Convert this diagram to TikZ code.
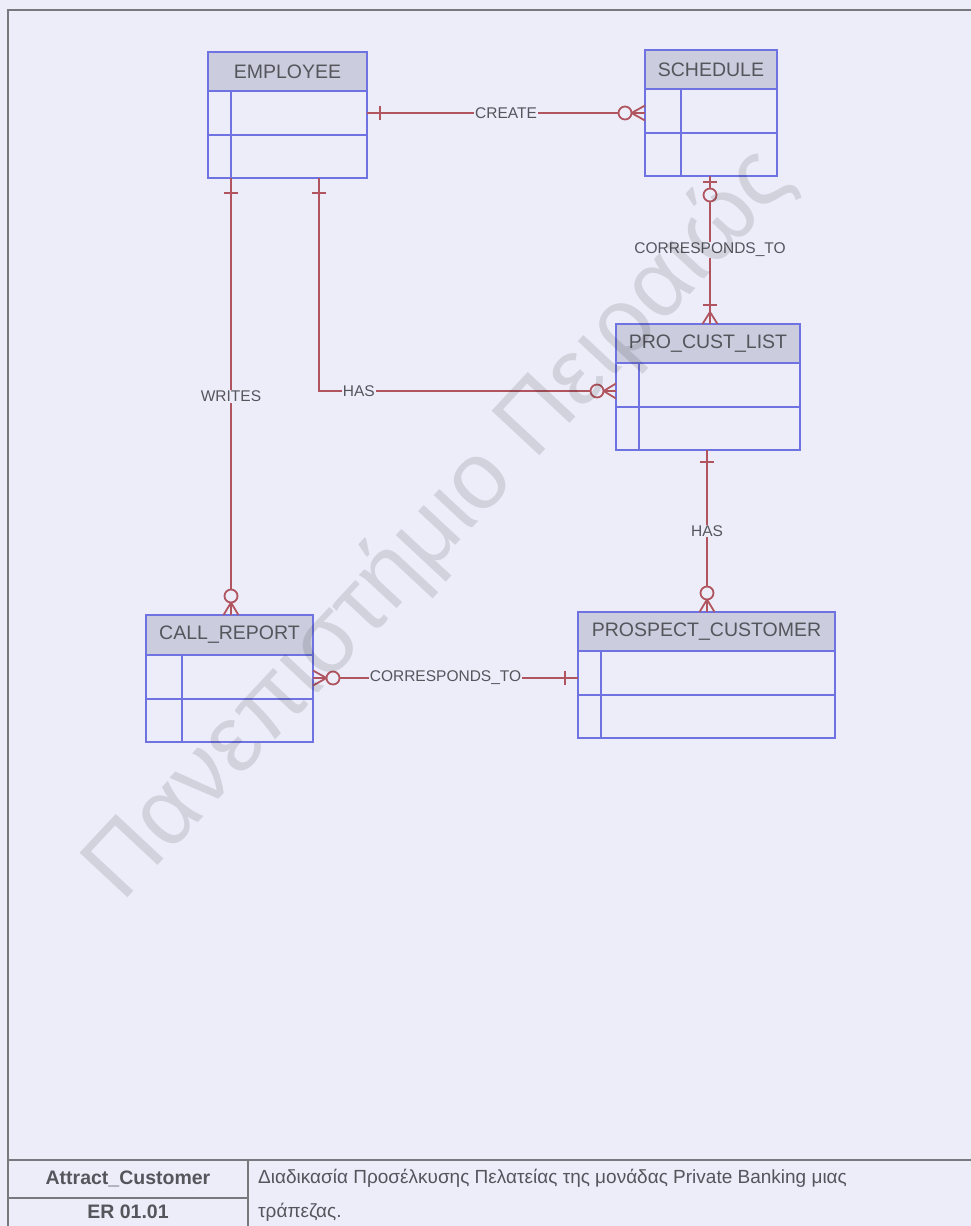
\documentclass[tikz,border=0pt]{standalone}
\usepackage{fontspec}
\setmainfont{Liberation Sans}
\usetikzlibrary{calc}
\definecolor{bg}{RGB}{236,237,249}
\definecolor{hdrfill}{RGB}{203,204,222}
\definecolor{blueline}{RGB}{110,115,225}
\definecolor{relred}{RGB}{176,85,95}
\definecolor{txtgray}{RGB}{85,85,92}
\definecolor{framegray}{RGB}{120,120,126}
\tikzset{
  ebox/.style={draw=blueline, line width=1.3pt, inner sep=0pt, outer sep=0pt},
  bl/.style={draw=blueline, line width=1.3pt},
  etitle/.style={text=txtgray, font=\fontsize{19.5}{20}\selectfont, inner sep=0pt},
  rel/.style={draw=relred, line width=1.8pt},
  lbl/.style={fill=bg, text=txtgray, font=\fontsize{15.5}{16}\selectfont, inner sep=1pt},
  frameline/.style={draw=framegray, line width=1.5pt},
  tabtxt/.style={text=txtgray, font=\fontsize{19}{19}\selectfont, inner sep=0pt},
  tabbold/.style={text=txtgray, font=\bfseries\fontsize{19.5}{19.5}\selectfont, inner sep=0pt},
}
\newcommand\entity[9]{%
  \fill[hdrfill] (#2,#3) rectangle (#4,#6);
  \draw[bl] (#2,#6) -- (#4,#6);
  \draw[bl] (#2,#7) -- (#4,#7);
  \draw[bl] (#8,#6) -- (#8,#5);
  \node[ebox, minimum width={#4-#2}, minimum height={#5-#3}] (#1) at ({(#2+#4)/2},{(#3+#5)/2}) {};
  \node[etitle] (#1-t) at ({(#2+#4)/2},{(#3+#6)/2}) {#9};
}
% markers: point, outward angle, distance
\newcommand\mone[3]{\begin{scope}[shift={(#1)},rotate=#2]\draw[rel] (#3,-7) -- (#3,7);\end{scope}}
\newcommand\mzmany[3]{\begin{scope}[shift={(#1)},rotate=#2]
  \draw[rel] (0,-7.5) -- ({#3-6.5},0) -- (0,7.5);
  \draw[rel, fill=bg] (#3,0) circle (6.5pt);\end{scope}}
\newcommand\mzone[3]{\begin{scope}[shift={(#1)},rotate=#2]
  \draw[rel] (6,-7) -- (6,7);
  \draw[rel, fill=bg] (#3,0) circle (6.5pt);\end{scope}}
\newcommand\monemany[3]{\begin{scope}[shift={(#1)},rotate=#2]
  \draw[rel] (0,-7.5) -- (12,0) -- (0,7.5);
  \draw[rel] (#3,-7) -- (#3,7);\end{scope}}
\begin{document}
\begin{tikzpicture}[x=1pt, y=-1pt]
\useasboundingbox (0,0) rectangle (971,1226);
\fill[bg] (0,0) rectangle (971,1226);
% frame
\draw[frameline] (971,10) -- (8,10) -- (8,1226);
\draw[frameline] (8,1160) -- (971,1160);
\draw[frameline] (8,1198) -- (248,1198);
\draw[frameline] (248,1160) -- (248,1226);
\node[tabbold] (t1) at (128,1179) {Attract\_Customer};
\node[tabbold] (t2) at (128,1212) {ER 01.01};
\node[tabtxt, anchor=west] (t3) at (258,1178) {Διαδικασία Προσέλκυσης Πελατείας της μονάδας Private Banking μιας};
\node[tabtxt, anchor=west] (t4) at (258,1212) {τράπεζας.};
% entities
\entity{emp}{208}{52}{367}{178}{91}{135}{231}{EMPLOYEE}
\entity{sch}{645}{50}{777}{176}{89}{133}{681}{SCHEDULE}
\entity{pcl}{616}{324}{800}{450}{363}{407}{639}{PRO\_CUST\_LIST}
\entity{pc}{578}{612}{835}{738}{651}{695}{601}{PROSPECT\_CUSTOMER}
\entity{crp}{146}{615}{313}{742}{655}{699}{182}{CALL\_REPORT}
% connectors
\coordinate (c1) at (emp.east |- sch.west);
\draw[rel] (c1) -- node[lbl]{CREATE} (sch.west);
\mone{c1}{0}{13}
\mzmany{sch.west}{180}{20}

\coordinate (w1) at ($(emp.south west)+(23,0)$);
\coordinate (w2) at (w1 |- crp.north);
\draw[rel] (w1) -- node[lbl]{WRITES} (w2);
\mone{w1}{-90}{15}
\mzmany{w2}{90}{19}

\coordinate (h1) at ($(emp.south west)+(111,0)$);
\coordinate (h2) at ($(pcl.west)+(0,4)$);
\draw[rel] (h1) |- node[lbl, pos=0.567]{HAS} (h2);
\mone{h1}{-90}{15}
\mzmany{h2}{180}{19}

\coordinate (s0) at ($(sch.south west)+(65,0)$);
\coordinate (s1) at (s0 |- pcl.north);
\draw[rel] (s0) -- node[lbl]{CORRESPONDS\_TO} (s1);
\mzone{s0}{-90}{19}
\monemany{s1}{90}{19}

\coordinate (p0) at ($(pcl.south west)+(91,0)$);
\coordinate (p1) at (p0 |- pc.north);
\draw[rel] (p0) -- node[lbl]{HAS} (p1);
\mone{p0}{-90}{12}
\mzmany{p1}{90}{19}

\coordinate (r0) at ($(crp.north east)+(0,63)$);
\coordinate (r1) at (r0 -| pc.west);
\draw[rel] (r0) -- node[lbl]{CORRESPONDS\_TO} (r1);
\mzmany{r0}{0}{20}
\mone{r1}{180}{13}

% watermark
\node[rotate=47, text=black, text opacity=0.11, font=\fontsize{95}{95}\selectfont, inner sep=0pt] (wm) at (440,525) {Πανεπιστήμιο Πειραιώς};
\end{tikzpicture}
\end{document}
